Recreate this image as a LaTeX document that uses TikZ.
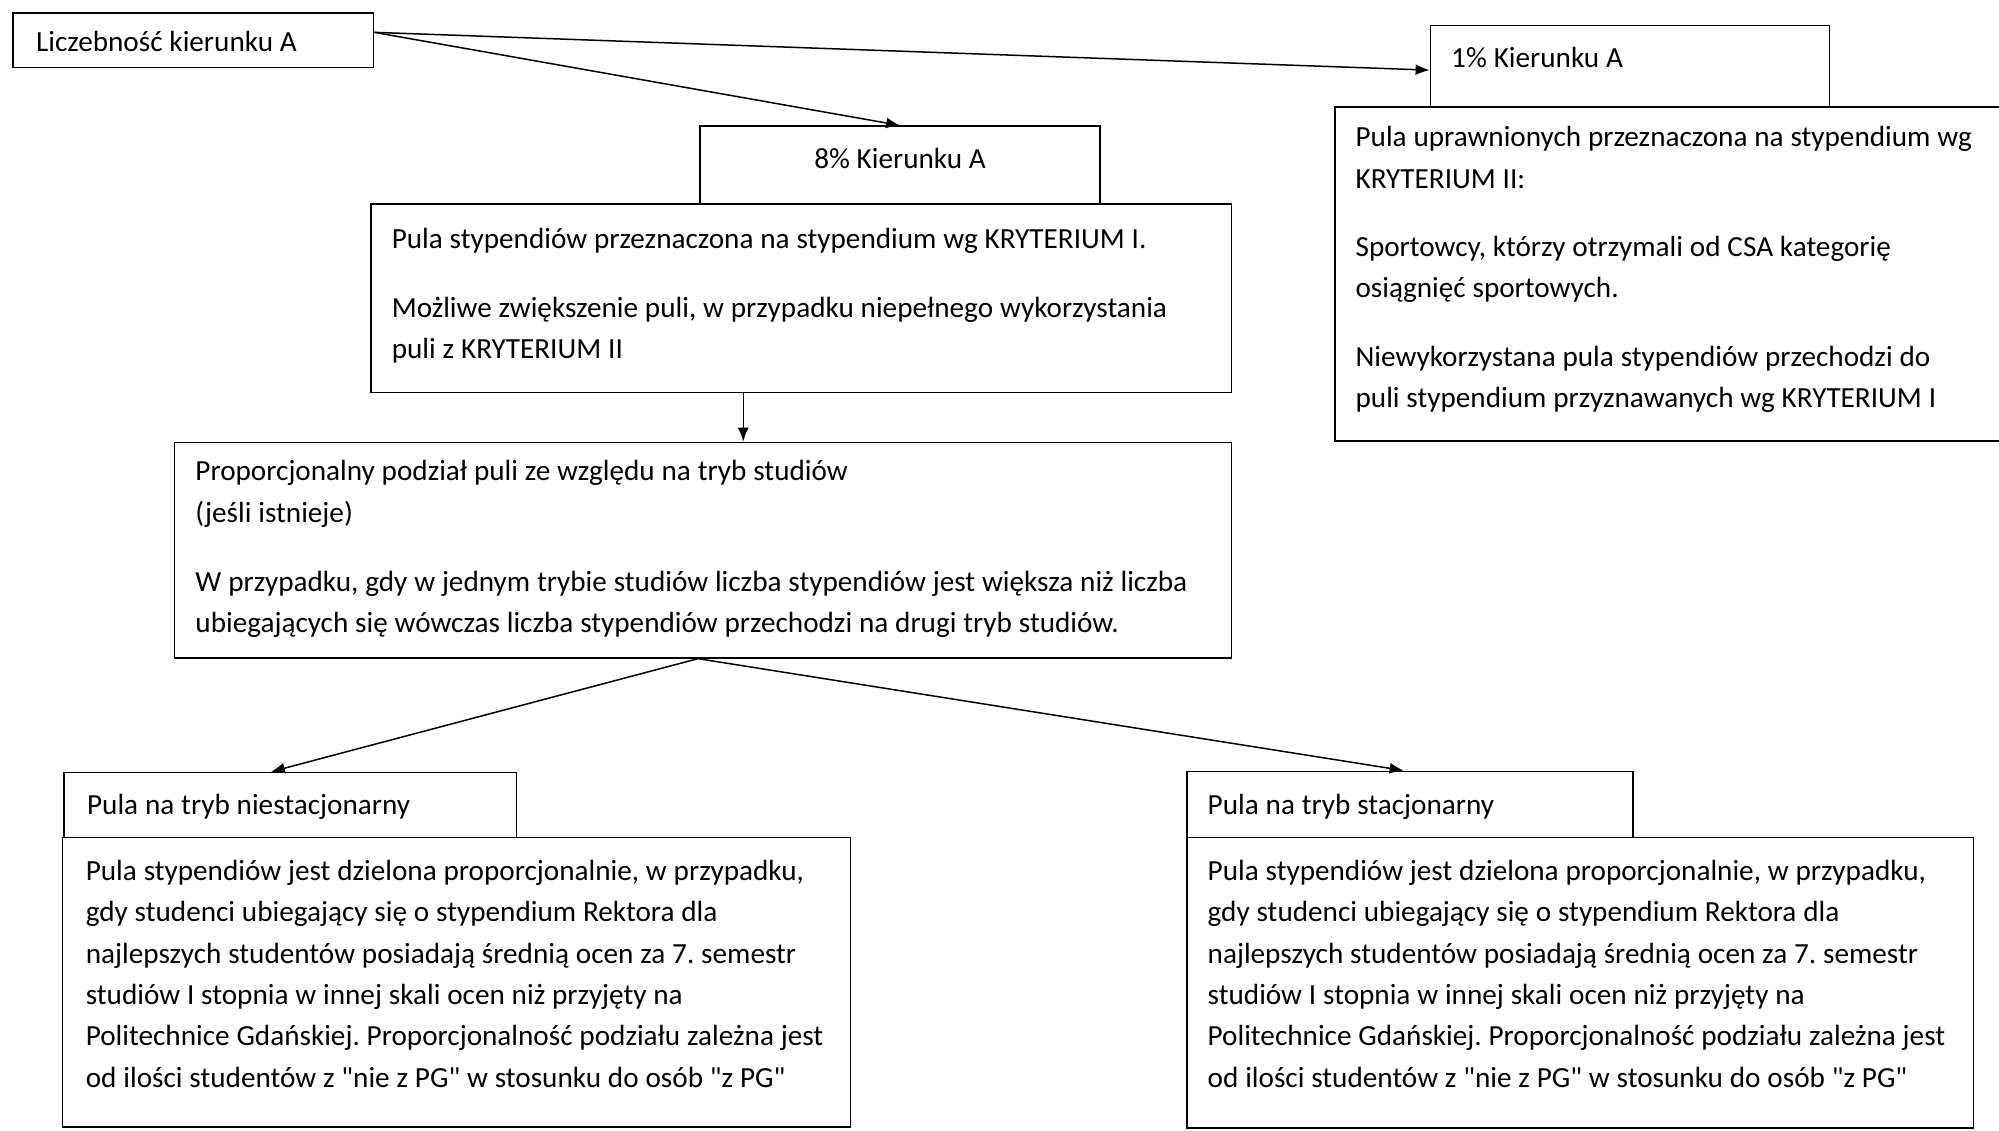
\documentclass[tikz,border=0pt]{standalone}
\usepackage{fontspec}
\setmainfont{Carlito}
\usetikzlibrary{arrows.meta,calc,fit}
\newcommand{\qd}{\XeTeXglyph\XeTeXcharglyph"22\relax}
\tikzset{
  box/.style={draw=black, line width=0.8pt, fill=white, inner sep=0pt, rectangle},
  txt/.style={inner sep=0pt, anchor=base west, align=left, text width=580pt,
    font=\fontsize{14.6pt}{20.7pt}\selectfont,
    execute at begin node={\frenchspacing\spaceskip=0.235em\xspaceskip=0.235em\relax}},
  ctxt/.style={inner sep=0pt, anchor=base, font=\fontsize{14.6pt}{20.7pt}\selectfont},
  arr/.style={draw=black, line width=0.75pt, -{Latex[length=7pt,width=5.5pt]}}
}
\begin{document}
\begin{tikzpicture}[x=0.6375pt, y=-0.6375pt]
\useasboundingbox (0,0) rectangle (1568,887);
% boxes
\node[box, fit={(10,10) (293,53)}] (L) {};
\node[box, fit={(549,99) (863,160)}] (b8) {};
\node[box, fit={(291,160) (966,308)}] (KI) {};
\node[box, fit={(1122,20) (1435,84)}] (b1) {};
\node[box, fit={(1047,84) (1580,346)}] (KII) {};
\node[box, fit={(137,347) (966,516)}] (P) {};
\node[box, fit={(50,606) (405,657)}] (Nh) {};
\node[box, fit={(49,657) (667,884)}] (N) {};
\node[box, fit={(931,605) (1281,657)}] (Sh) {};
\node[box, fit={(931,657) (1548,885)}] (S) {};
% texts
\node[txt] (tL) at (28,40) {Liczebność kierunku A};
\node[ctxt] (t8) at (706,132) {8\% Kierunku A};
\node[txt] (tKI) at (307,195) {Pula stypendiów przeznaczona na stypendium wg KRYTERIUM I.\\[13.5pt]
Możliwe zwiększenie puli, w przypadku niepełnego wykorzystania\\
puli z KRYTERIUM II};
\node[txt] (t1) at (1138,53) {1\% Kierunku A};
\node[txt] (tKII) at (1063,115) {Pula uprawnionych przeznaczona na stypendium wg\\
KRYTERIUM II:\\[13.5pt]
Sportowcy, którzy otrzymali od CSA kategorię\\
osiągnięć sportowych.\\[13.5pt]
Niewykorzystana pula stypendiów przechodzi do\\
puli stypendium przyznawanych wg KRYTERIUM I};
\node[txt] (tP) at (153,377) {Proporcjonalny podział puli ze względu na tryb studiów\\
(jeśli istnieje)\\[14pt]
W przypadku, gdy w jednym trybie studiów liczba stypendiów jest większa niż liczba\\
ubiegających się wówczas liczba stypendiów przechodzi na drugi tryb studiów.};
\node[txt] (tNh) at (68,638.5) {Pula na tryb niestacjonarny};
\node[txt] (tN) at (67,690.5) {Pula stypendiów jest dzielona proporcjonalnie, w przypadku,\\
gdy studenci ubiegający się o stypendium Rektora dla\\
najlepszych studentów posiadają średnią ocen za 7. semestr\\
studiów I stopnia w innej skali ocen niż przyjęty na\\
Politechnice Gdańskiej. Proporcjonalność podziału zależna jest\\
od ilości studentów z \qd nie z PG\qd{} w stosunku do osób \qd z PG\qd};
\node[txt] (tSh) at (947,638.5) {Pula na tryb stacjonarny};
\node[txt] (tS) at (947,690.5) {Pula stypendiów jest dzielona proporcjonalnie, w przypadku,\\
gdy studenci ubiegający się o stypendium Rektora dla\\
najlepszych studentów posiadają średnią ocen za 7. semestr\\
studiów I stopnia w innej skali ocen niż przyjęty na\\
Politechnice Gdańskiej. Proporcjonalność podziału zależna jest\\
od ilości studentów z \qd nie z PG\qd{} w stosunku do osób \qd z PG\qd};
% connectors
\coordinate (Lout) at ($(L.north east)+(0,16)$);
\coordinate (kp) at (583,0);
\coordinate (Pout) at ($(P.south)+(-4,0)$);
\draw[arr] (Lout) -- (b8.north);
\draw[arr] (Lout) -- ($(b1.west)+(0,3)$);
\draw[arr] (KI.south -| kp) -- (P.north -| kp);
\draw[arr] (Pout) -- ($(Nh.north)+(-15,0)$);
\draw[arr] (Pout) -- ($(Sh.north)+(-5,0)$);
\end{tikzpicture}
\end{document}
